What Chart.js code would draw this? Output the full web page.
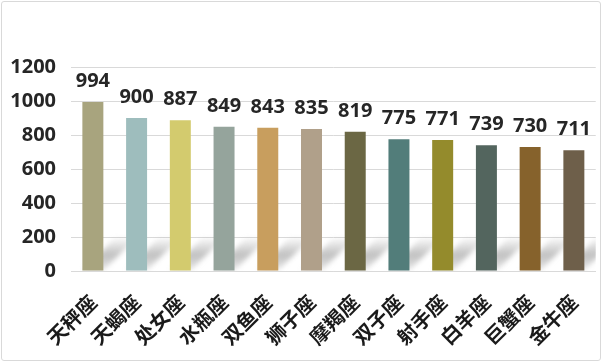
<!DOCTYPE html>
<html>
<head>
<meta charset="utf-8">
<script src="https://cdn.jsdelivr.net/npm/chart.js@4/dist/chart.umd.min.js"></script>
<style>
  body { margin: 0; background: #fff; }
  #wrap { position: relative; width: 602px; height: 362px; }
  #frame {
    position: absolute; left: 1px; top: 1px; width: 598px; height: 358px;
    border: 1px solid #d9d9d9; border-radius: 3px; pointer-events: none;
  }
</style>
</head>
<body>
<div id="wrap">
  <canvas id="chart" width="602" height="362"></canvas>
  <div id="frame"></div>
</div>
<script>
// 星座 数据
const signs = ["天秤座", "天蝎座", "处女座", "水瓶座", "双鱼座", "狮子座", "摩羯座", "双子座", "射手座", "白羊座", "巨蟹座", "金牛座"];
const counts = [994, 900, 887, 849, 843, 835, 819, 775, 771, 739, 730, 711];
const barColors = ["#a8a47e", "#9ebdbd", "#d3cb6e", "#95a49c", "#c89e5e", "#b0a08a", "#6b6744", "#527d7a", "#948b2c", "#53655e", "#86622c", "#6e5f4a"];
const yTicks = [0, 200, 400, 600, 800, 1000, 1200];

// sombra diagonal embaixo das barras
const barShadow = {
  id: "barShadow",
  beforeDatasetsDraw(chart) {
    const ctx = chart.ctx;
    const area = chart.chartArea;
    const h = 34;
    ctx.save();
    ctx.beginPath();
    ctx.rect(area.left, area.top, area.right - area.left, area.bottom - area.top);
    ctx.clip();
    ctx.filter = "blur(2.5px)";
    chart.getDatasetMeta(0).data.forEach((bar) => {
      const left = bar.x - bar.width / 2;
      const right = bar.x + bar.width / 2;
      const base = bar.base;
      const g = ctx.createLinearGradient(0, base, 0, base - h);
      g.addColorStop(0, "rgba(150,150,150,0.2)");
      g.addColorStop(0.45, "rgba(150,150,150,0.6)");
      g.addColorStop(1, "rgba(150,150,150,0)");
      ctx.fillStyle = g;
      ctx.beginPath();
      ctx.moveTo(left, base);
      ctx.lineTo(right, base);
      ctx.lineTo(right + h, base - h);
      ctx.lineTo(left + h, base - h);
      ctx.closePath();
      ctx.fill();
    });
    ctx.restore();
  },
};

// rótulos de valor em cima das barras
const valueLabels = {
  id: "valueLabels",
  afterDatasetsDraw(chart) {
    const ctx = chart.ctx;
    ctx.save();
    ctx.font = "bold 20px 'Open Sans'";
    ctx.fillStyle = "#262626";
    ctx.textAlign = "center";
    ctx.textBaseline = "alphabetic";
    chart.getDatasetMeta(0).data.forEach((bar, i) => {
      ctx.fillText(String(counts[i]), bar.x, bar.y - 15);
    });
    ctx.restore();
  },
};

new Chart(document.getElementById("chart").getContext("2d"), {
  type: "bar",
  data: {
    labels: signs,
    datasets: [
      {
        data: counts,
        backgroundColor: barColors,
        borderWidth: 0,
        barPercentage: 0.48,
        categoryPercentage: 1,
      },
    ],
  },
  options: {
    responsive: false,
    animation: false,
    layout: { padding: { top: 67, right: 4, left: 0, bottom: 0 } },
    plugins: {
      legend: { display: false },
      tooltip: { enabled: false },
    },
    scales: {
      x: {
        afterFit(scale) { scale.height = 91; },
        grid: { display: false },
        border: { color: "#d9d9d9" },
        ticks: {
          minRotation: 45,
          maxRotation: 45,
          padding: 11,
          color: "#1a1a1a",
          font: { family: "'Noto Sans CJK SC'", weight: "bold", size: 20 },
        },
      },
      y: {
        min: 0,
        max: 1200,
        afterFit(scale) { scale.width = 71; },
        afterBuildTicks(scale) { scale.ticks = yTicks.map((v) => ({ value: v })); },
        grid: { color: "#d9d9d9", drawTicks: false },
        border: { display: false },
        ticks: {
          padding: 15,
          color: "#262626",
          callback: (v) => String(v),
          font: { family: "'Open Sans'", weight: "bold", size: 20 },
        },
      },
    },
  },
  plugins: [barShadow, valueLabels],
});
</script>
</body>
</html>
